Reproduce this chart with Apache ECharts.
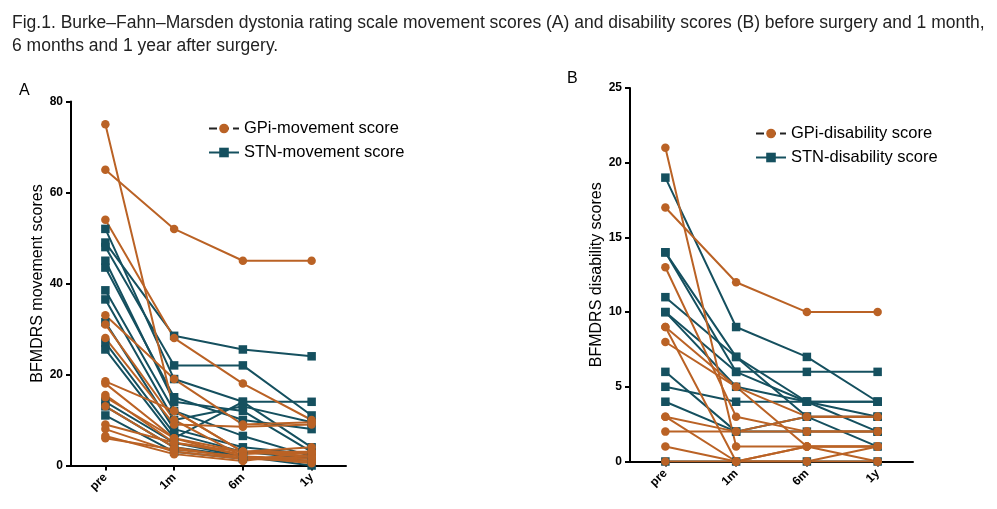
<!DOCTYPE html>
<html>
<head>
<meta charset="utf-8">
<script src="https://cdn.jsdelivr.net/npm/echarts@6/dist/echarts.min.js"></script>
<style>
html,body{margin:0;padding:0;background:#fff;}
#c{width:997px;height:509px;}
</style>
</head>
<body>
<div id="c"></div>
<script>
// ---- data ----
const timepoints = ['pre', '1m', '6m', '1y'];
const yTicksA = [0, 20, 40, 60, 80];
const yTicksB = [0, 5, 10, 15, 20, 25];

// Panel A: movement scores (one array per patient: pre, 1m, 6m, 1y)
const gpiMovement = [
  [75, 12, 3, 2.5],
  [65, 52, 45, 45],
  [54, 28, 18, 10],
  [33, 19, 9, 9.5],
  [31, 10, 2, 1],
  [28, 9, 8.5, 9],
  [18.5, 12, 3, 3],
  [18, 6, 3, 2],
  [15.5, 5, 2.5, 3],
  [15, 6, 2, 1.5],
  [13, 4, 1.5, 1],
  [9, 5, 3, 4],
  [8, 3, 1.5, 2],
  [6.5, 2.5, 1, 3],
  [6, 3.5, 2, 0.5]
];
const stnMovement = [
  [52, 19, 14, 14],
  [49, 28.5, 25.5, 24],
  [48, 22, 22, 11],
  [45, 14, 12, 3],
  [43.5, 15, 10, 8],
  [38.5, 12, 6.5, 2],
  [36.5, 10, 13, 9.5],
  [31.5, 8, 4, 2.5],
  [27, 7, 3, 1.5],
  [25.5, 6, 14, 4],
  [14, 5, 2, 0],
  [13, 4, 2, 1],
  [11, 3, 1.5, 2]
];

// Panel B: disability scores
const gpiDisability = [
  [21, 1, 1, 1],
  [17, 12, 10, 10],
  [13, 3, 2, 2],
  [9, 5, 1, 0],
  [9, 0, 1, 1],
  [8, 5, 3, 3],
  [3, 2, 3, 3],
  [3, 0, 0, 1],
  [2, 2, 2, 2],
  [1, 0, 1, 1],
  [0, 0, 0, 0]
];
const stnDisability = [
  [19, 9, 7, 4],
  [14, 7, 4, 3],
  [14, 6, 4, 2],
  [11, 7, 3, 1],
  [10, 6, 6, 6],
  [10, 5, 4, 4],
  [6, 2, 2, 2],
  [5, 4, 4, 4],
  [4, 2, 3, 3],
  [0, 0, 0, 0]
];

const labelsText = {
  title1: 'Fig.1. Burke\u2013Fahn\u2013Marsden dystonia rating scale movement scores (A) and disability scores (B) before surgery and 1 month,',
  title2: '6 months and 1 year after surgery.'
};

// ---- styles ----
const ORANGE = '#BA6225';
const TEAL = '#15505F';
const FONT = '"Liberation Sans", Arial, sans-serif';

function mkSeries(rows, name, color, symbol, axisIdx) {
  return rows.map(r => ({
    type: 'line',
    name: name,
    xAxisIndex: axisIdx,
    yAxisIndex: axisIdx,
    data: r,
    symbol: symbol,
    symbolSize: 8.5,
    showSymbol: true,
    lineStyle: { color: color, width: 2 },
    itemStyle: { color: color },
    emphasis: { disabled: true },
    animation: false
  }));
}

const xAxisCommon = {
  type: 'category',
  data: timepoints,
  boundaryGap: true,
  axisLine: { lineStyle: { color: '#000', width: 2 } },
  axisTick: { show: true, alignWithLabel: true, length: 5, lineStyle: { color: '#000', width: 2 } },
  axisLabel: { rotate: 45, color: '#000', fontWeight: 'bold', fontSize: 12, fontFamily: FONT, margin: 10 },
  splitLine: { show: false }
};
function yAxisCommon(max, interval, name) {
  return {
    type: 'value',
    min: 0, max: max, interval: interval,
    name: name,
    nameLocation: 'middle',
    nameGap: 25,
    nameTextStyle: { color: '#000', fontSize: 16, fontFamily: FONT },
    axisLine: { show: true, lineStyle: { color: '#000', width: 2 } },
    axisTick: { show: true, length: 5, lineStyle: { color: '#000', width: 2 } },
    axisLabel: { color: '#000', fontWeight: 'bold', fontSize: 12, fontFamily: FONT, margin: 8 },
    splitLine: { show: false }
  };
}

const chart = echarts.init(document.getElementById('c'), null, { renderer: 'canvas' });
const option = {
  backgroundColor: '#fff',
  animation: false,
  title: [
    { text: labelsText.title1, left: 7, top: 9, textStyle: { fontSize: 17.5, fontWeight: 'normal', color: '#222', fontFamily: FONT } },
    { text: labelsText.title2, left: 7, top: 32, textStyle: { fontSize: 17.5, fontWeight: 'normal', color: '#222', fontFamily: FONT } },
    { text: 'A', left: 14, top: 78, textStyle: { fontSize: 16, fontWeight: 'normal', color: '#000', fontFamily: FONT } },
    { text: 'B', left: 562, top: 66, textStyle: { fontSize: 16, fontWeight: 'normal', color: '#000', fontFamily: FONT } }
  ],
  legend: [
    {
      orient: 'vertical', left: 203, top: 115, itemWidth: 30, itemHeight: 12, itemGap: 7,
      textStyle: { fontSize: 16.5, color: '#000', fontFamily: FONT },
      selectedMode: false,
      data: [
        { name: 'GPi-movement score', lineStyle: { color: '#222', type: 'dashed' } },
        { name: 'STN-movement score' }
      ]
    },
    {
      orient: 'vertical', left: 750, top: 120, itemWidth: 30, itemHeight: 12, itemGap: 7,
      textStyle: { fontSize: 16.5, color: '#000', fontFamily: FONT },
      selectedMode: false,
      data: [
        { name: 'GPi-disability score', lineStyle: { color: '#222', type: 'dashed' } },
        { name: 'STN-disability score' }
      ]
    }
  ],
  grid: [
    { left: 71, top: 101.5, width: 275, height: 364 },
    { left: 630, top: 88, width: 283, height: 373.5 }
  ],
  xAxis: [
    Object.assign({ gridIndex: 0 }, xAxisCommon),
    Object.assign({ gridIndex: 1 }, xAxisCommon)
  ],
  yAxis: [
    Object.assign({ gridIndex: 0 }, yAxisCommon(yTicksA[yTicksA.length - 1], yTicksA[1] - yTicksA[0], 'BFMDRS movement scores')),
    Object.assign({ gridIndex: 1 }, yAxisCommon(yTicksB[yTicksB.length - 1], yTicksB[1] - yTicksB[0], 'BFMDRS disability scores'))
  ],
  series: [].concat(
    mkSeries(stnMovement, 'STN-movement score', TEAL, 'rect', 0),
    mkSeries(gpiMovement, 'GPi-movement score', ORANGE, 'circle', 0),
    mkSeries(stnDisability, 'STN-disability score', TEAL, 'rect', 1),
    mkSeries(gpiDisability, 'GPi-disability score', ORANGE, 'circle', 1)
  )
};
chart.setOption(option);
</script>
</body>
</html>
